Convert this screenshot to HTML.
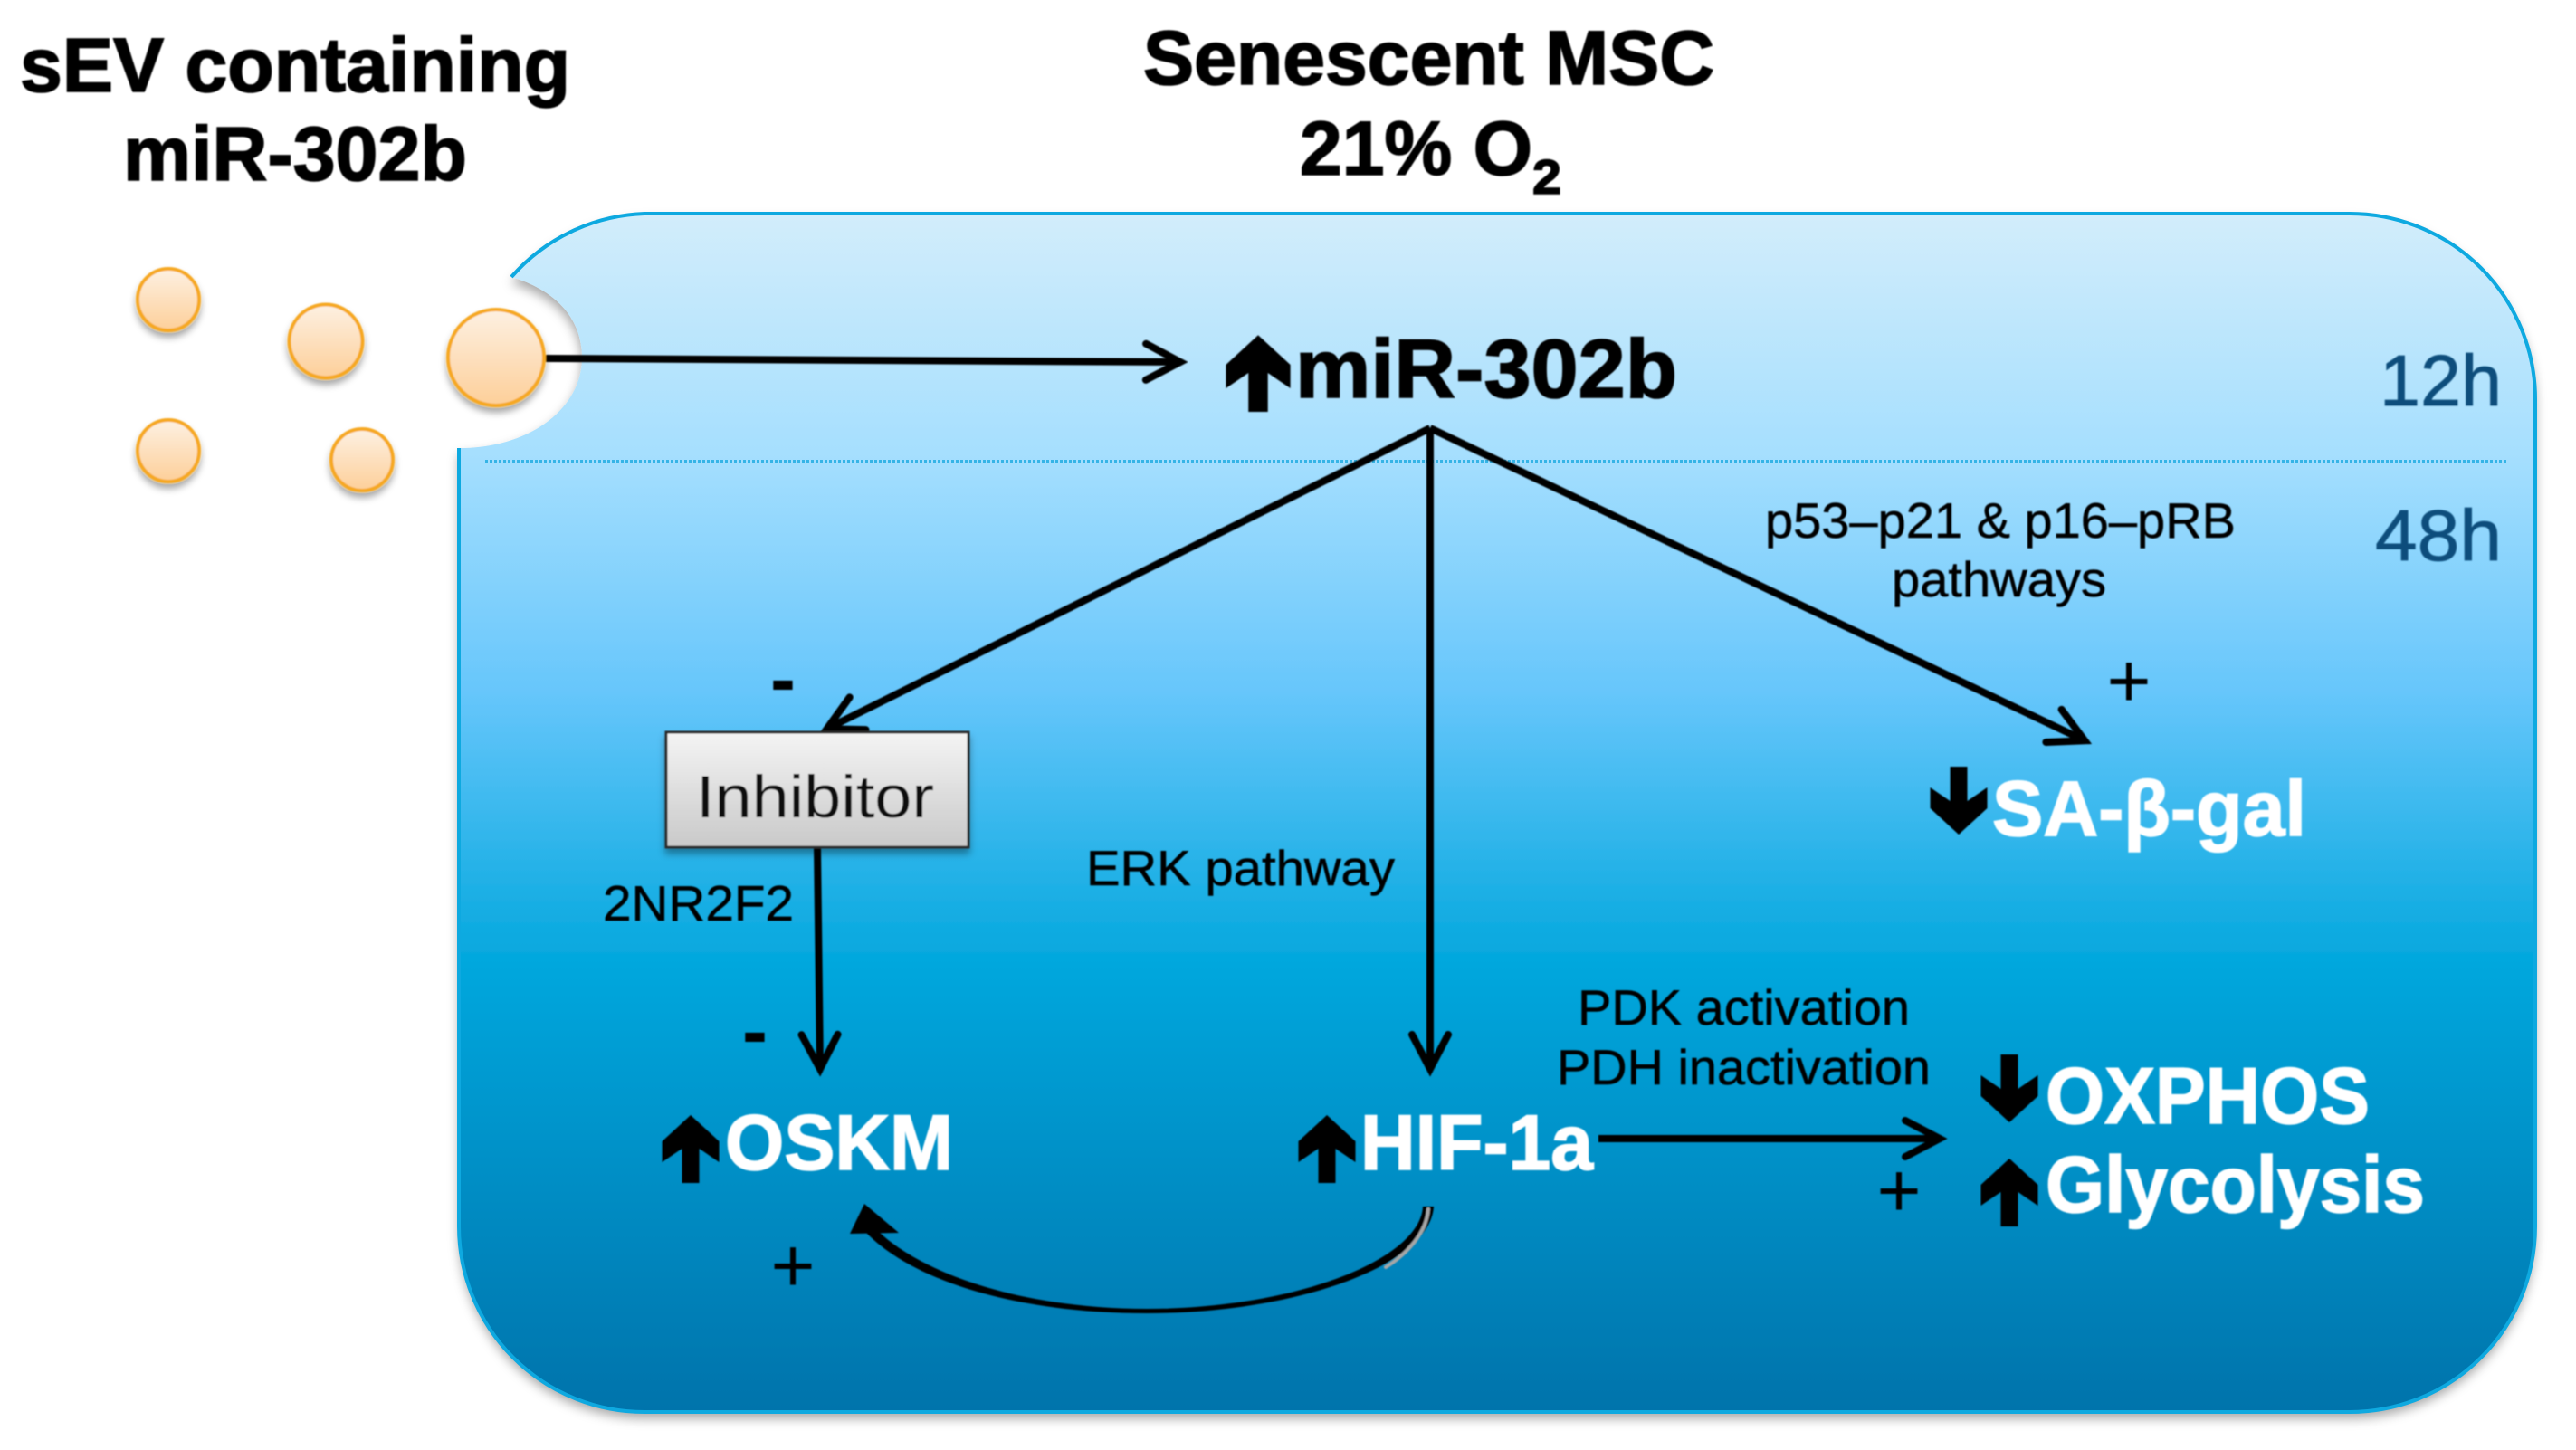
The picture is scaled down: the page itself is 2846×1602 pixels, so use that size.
<!DOCTYPE html>
<html><head><meta charset="utf-8"><style>
html,body{margin:0;padding:0;background:#fff}
svg{display:block}
text{font-family:"Liberation Sans",sans-serif}
.b{font-weight:bold;stroke-width:1.6px}
.k{stroke:#000}
.w{stroke:#fff}
.r{stroke:#000;stroke-width:.5px}
</style></head><body>
<svg width="2846" height="1602" viewBox="0 0 2846 1602" xmlns="http://www.w3.org/2000/svg">
<defs>
<linearGradient id="pg" x1="0" y1="0" x2="0" y2="1">
<stop offset="0" stop-color="#d2edfb"/><stop offset="0.2" stop-color="#a6dffe"/><stop offset="0.4" stop-color="#66c6fb"/><stop offset="0.62" stop-color="#05a8de"/><stop offset="1" stop-color="#0073ab"/>
</linearGradient>
<linearGradient id="cg" x1="0" y1="0" x2="0" y2="1"><stop offset="0" stop-color="#fdf0e2"/><stop offset="1" stop-color="#fdcf99"/></linearGradient>
<linearGradient id="bg" x1="0" y1="0" x2="0" y2="1"><stop offset="0" stop-color="#f4f4f4"/><stop offset="1" stop-color="#c9c9c9"/></linearGradient>
<filter id="sh" x="-5%" y="-5%" width="110%" height="110%"><feDropShadow dx="0" dy="7" stdDeviation="6" flood-color="#000" flood-opacity="0.35"/></filter>
<filter id="cs" x="-30%" y="-30%" width="160%" height="160%"><feDropShadow dx="0" dy="6" stdDeviation="4" flood-color="#000" flood-opacity="0.35"/></filter>
<filter id="soft"><feGaussianBlur stdDeviation="0.9"/></filter>
<marker id="ah" markerUnits="userSpaceOnUse" markerWidth="70" markerHeight="70" refX="50" refY="35" orient="auto" viewBox="0 0 70 70">
<path d="M12,15 L50,35 L12,55" fill="none" stroke="#000" stroke-width="8" stroke-linecap="round" stroke-linejoin="miter"/>
</marker>
</defs>

<path filter="url(#sh)" fill="url(#pg)" d="M565,306 A205,205 0 0 1 712,236 H2596 A205,205 0 0 1 2801,441 V1355 A205,205 0 0 1 2596,1560 H712 A205,205 0 0 1 507,1355 V495 H513 C588,493 643,450 643,395 C643,350 612,320 565,306 Z"/>
<path fill="none" stroke="#0ea9e0" stroke-width="4" d="M565,306 A205,205 0 0 1 712,236 H2596 A205,205 0 0 1 2801,441 V1355 A205,205 0 0 1 2596,1560 H712 A205,205 0 0 1 507,1355 V495"/>
<line x1="536" y1="509.5" x2="2771" y2="509.5" stroke="#35b4e6" stroke-width="3" stroke-dasharray="3 2"/>

<g filter="url(#soft)">
<g fill="url(#cg)" stroke="#f6a824" stroke-width="4">
<circle cx="186" cy="331" r="34" filter="url(#cs)"/>
<circle cx="360" cy="377" r="40.5" filter="url(#cs)"/>
<circle cx="548" cy="395" r="53" filter="url(#cs)"/>
<circle cx="186" cy="498" r="34" filter="url(#cs)"/>
<circle cx="400" cy="508" r="34" filter="url(#cs)"/>
</g>

<g stroke="#000" stroke-width="8" fill="none">
<line x1="603" y1="396" x2="1304" y2="400" marker-end="url(#ah)"/>
<line x1="1580" y1="473" x2="913.6" y2="805.2" marker-end="url(#ah)"/>
<line x1="1580" y1="473" x2="1580" y2="1181" marker-end="url(#ah)"/>
<line x1="1580" y1="473" x2="2303.3" y2="818.3" marker-end="url(#ah)"/>
<line x1="903" y1="936" x2="906" y2="1181" marker-end="url(#ah)"/>
<line x1="1766" y1="1258" x2="2143" y2="1258" marker-end="url(#ah)"/>
</g>
<path fill="#000" d="M1584,1333 C1580,1398 1432,1451 1267,1451 C1130,1451 1012,1418 957,1362 H972 C1022,1408 1130,1446 1267,1446 C1430,1446 1569,1392 1572,1333 Z"/>
<path fill="none" stroke="#a6a6a6" stroke-width="4" stroke-linecap="round" d="M1578,1336 C1576,1362 1555,1385 1531,1400"/>
<polygon points="955,1330 939,1363 993,1362" fill="#000"/>

<rect x="736" y="809" width="334" height="127" fill="url(#bg)" stroke="#2a2a2a" stroke-width="3" filter="url(#cs)"/>
<text x="769" y="903" font-size="66" textLength="263" lengthAdjust="spacingAndGlyphs" fill="#111">Inhibitor</text>

<g fill="#000">
<path transform="translate(1390,455) scale(1.13,-1.13)" d="M-9.5,0 H9.5 V38 L31.5,23 V46 L0,75 L-31.5,46 V23 L-9.5,38 Z"/>
<path transform="translate(763,1307) scale(1,-1)" d="M-9.5,0 H9.5 V38 L31.5,23 V46 L0,75 L-31.5,46 V23 L-9.5,38 Z"/>
<path transform="translate(1466,1307) scale(1,-1)" d="M-9.5,0 H9.5 V38 L31.5,23 V46 L0,75 L-31.5,46 V23 L-9.5,38 Z"/>
<path transform="translate(2220,1355) scale(1,-1)" d="M-9.5,0 H9.5 V38 L31.5,23 V46 L0,75 L-31.5,46 V23 L-9.5,38 Z"/>
<path transform="translate(2220,1165)" d="M-9.5,0 H9.5 V38 L31.5,23 V46 L0,75 L-31.5,46 V23 L-9.5,38 Z"/>
<path transform="translate(2164,847)" d="M-9.5,0 H9.5 V38 L31.5,23 V46 L0,75 L-31.5,46 V23 L-9.5,38 Z"/>
</g>

<g fill="#000">
<text class="b k" x="22" y="101" font-size="84" textLength="608" lengthAdjust="spacingAndGlyphs">sEV containing</text>
<text class="b k" x="136" y="199" font-size="84" textLength="380" lengthAdjust="spacingAndGlyphs">miR-302b</text>
<text class="b k" x="1263" y="93" font-size="84" textLength="631" lengthAdjust="spacingAndGlyphs">Senescent MSC</text>
<text class="b k" x="1436" y="193" font-size="84" textLength="257" lengthAdjust="spacingAndGlyphs">21% O</text>
<text class="b k" x="1693" y="214" font-size="54" textLength="32" lengthAdjust="spacingAndGlyphs">2</text>
<text class="b k" x="1431" y="439" font-size="92" textLength="422" lengthAdjust="spacingAndGlyphs">miR-302b</text>
<text class="r" x="1950" y="594" font-size="55" textLength="520" lengthAdjust="spacingAndGlyphs">p53–p21 &amp; p16–pRB</text>
<text class="r" x="2090" y="659" font-size="55" textLength="237" lengthAdjust="spacingAndGlyphs">pathways</text>
<text class="r" x="1200" y="978" font-size="55" textLength="341" lengthAdjust="spacingAndGlyphs">ERK pathway</text>
<text class="r" x="666" y="1017" font-size="55" textLength="211" lengthAdjust="spacingAndGlyphs">2NR2F2</text>
<text class="r" x="1743" y="1132" font-size="55" textLength="367" lengthAdjust="spacingAndGlyphs">PDK activation</text>
<text class="r" x="1720" y="1198" font-size="55" textLength="413" lengthAdjust="spacingAndGlyphs">PDH inactivation</text>
<text x="2352" y="781" font-size="84" text-anchor="middle">+</text>
<text x="876" y="1427" font-size="84" text-anchor="middle">+</text>
<text x="2098" y="1344" font-size="84" text-anchor="middle">+</text>
<text class="b" x="865" y="779" font-size="84" text-anchor="middle">-</text>
<text class="b" x="834" y="1168" font-size="84" text-anchor="middle">-</text>
</g>

<g fill="#0b4d7c" stroke="#0b4d7c" stroke-width=".8">
<text x="2629" y="448" font-size="80" textLength="135" lengthAdjust="spacingAndGlyphs">12h</text>
<text x="2624" y="619" font-size="80" textLength="140" lengthAdjust="spacingAndGlyphs">48h</text>
</g>

<g fill="#fff">
<text class="b w" x="801" y="1292" font-size="86" textLength="252" lengthAdjust="spacingAndGlyphs">OSKM</text>
<text class="b w" x="1503" y="1292" font-size="86" textLength="257" lengthAdjust="spacingAndGlyphs">HIF-1a</text>
<text class="b w" x="2201" y="923" font-size="86" textLength="347" lengthAdjust="spacingAndGlyphs">SA-β-gal</text>
<text class="b w" x="2260" y="1241" font-size="88" textLength="358" lengthAdjust="spacingAndGlyphs">OXPHOS</text>
<text class="b w" x="2260" y="1339" font-size="88" textLength="419" lengthAdjust="spacingAndGlyphs">Glycolysis</text>
</g>
</g>
</svg>
</body></html>
